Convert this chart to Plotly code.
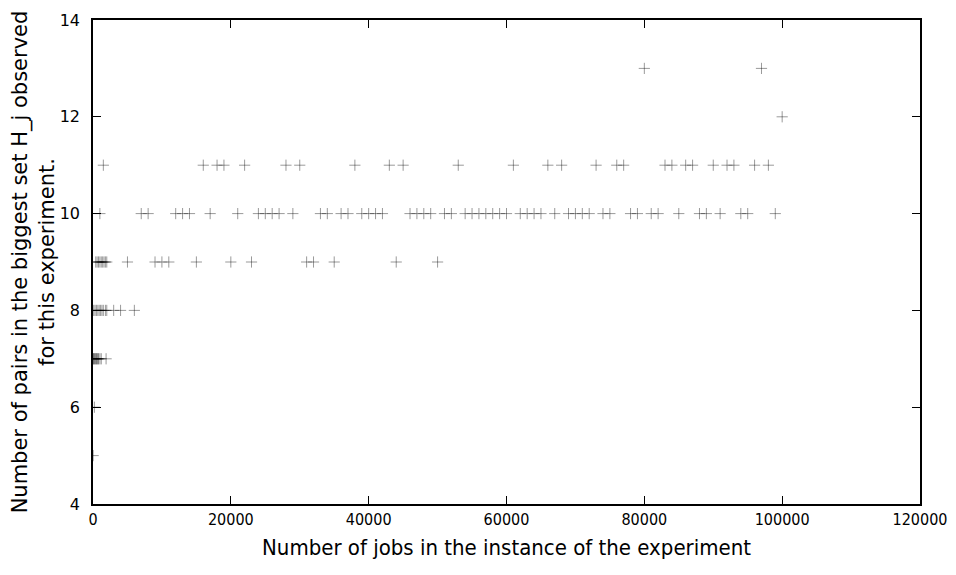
import plotly.graph_objects as go

# x values (number of jobs) grouped by observed size of the biggest set H_j
jobs_13 = [80000, 97000]
jobs_12 = [100000]
jobs_11 = [1500, 16000, 18000, 19000, 22000, 28000, 30000, 38000, 43000, 45000,
           53000, 61000, 66000, 68000, 73000, 76000, 77000, 83000, 84000, 86000,
           87000, 90000, 92000, 93000, 96000, 98000]
jobs_10 = [1000, 7000, 8000, 12000, 13000, 14000, 17000, 21000, 24000, 25000,
           26000, 27000, 29000, 33000, 34000, 36000, 37000, 39000, 40000, 41000,
           42000, 46000, 47000, 48000, 49000, 51000, 52000, 54000, 55000, 56000,
           57000, 58000, 59000, 60000, 62000, 63000, 64000, 65000, 67000, 69000,
           70000, 71000, 72000, 74000, 75000, 78000, 79000, 81000, 82000, 85000,
           88000, 89000, 91000, 94000, 95000, 99000]
jobs_9 = [400, 600, 800, 1000, 1200, 1400, 1600, 1800, 2000, 5000, 9000, 10000,
          11000, 15000, 20000, 23000, 31000, 32000, 35000, 44000, 50000]
jobs_8 = [100, 300, 500, 700, 900, 1100, 1300, 1500, 1800, 2000, 3000, 4000, 6000]
jobs_7 = [50, 100, 200, 300, 400, 500, 600, 700, 800, 1000, 1200, 1900]
jobs_6 = [200]
jobs_5 = [20]

groups = [(13, jobs_13), (12, jobs_12), (11, jobs_11), (10, jobs_10), (9, jobs_9),
          (8, jobs_8), (7, jobs_7), (6, jobs_6), (5, jobs_5)]

xs, ys = [], []
for val, jobs in groups:
    xs.extend(jobs)
    ys.extend([val] * len(jobs))

fig = go.Figure()
fig.add_trace(go.Scatter(
    x=xs, y=ys, mode="markers",
    marker=dict(symbol="cross-thin", size=8,
                line=dict(width=1, color="rgba(0,0,0,0.4)")),
    showlegend=False,
))

narrow = "Liberation Sans Narrow, DejaVu Sans Condensed, Liberation Sans, sans-serif"
wide = "DejaVu Sans, Verdana, sans-serif"

fig.update_layout(
    width=948, height=567,
    margin=dict(l=85, r=36, t=12, b=71),
    paper_bgcolor="white", plot_bgcolor="white",
    xaxis=dict(
        range=[0, 120000], dtick=20000, tick0=0, tickformat="d",
        showgrid=False, zeroline=False, automargin=False,
        showline=True, linecolor="black", linewidth=1.5, mirror="ticks",
        ticks="inside", ticklen=8, tickcolor="black", tickwidth=1,
        tickfont=dict(family=narrow, size=16, color="black"),
        title=dict(text="Number of jobs in the instance of the experiment",
                   font=dict(family=narrow, size=22, color="black"),
                   standoff=12),
    ),
    yaxis=dict(
        range=[4, 14], dtick=2, tick0=4,
        showgrid=False, zeroline=False, automargin=False,
        showline=True, linecolor="black", linewidth=1.5, mirror="ticks",
        ticks="inside", ticklen=8, tickcolor="black", tickwidth=1,
        ticklabelstandoff=8,
        tickfont=dict(family=wide, size=16, color="black"),
        title=dict(text="Number of pairs in the biggest set H_j observed<br>for this experiment.",
                   font=dict(family=wide, size=21, color="black"),
                   standoff=3),
    ),
)

fig.write_html("out.html")
